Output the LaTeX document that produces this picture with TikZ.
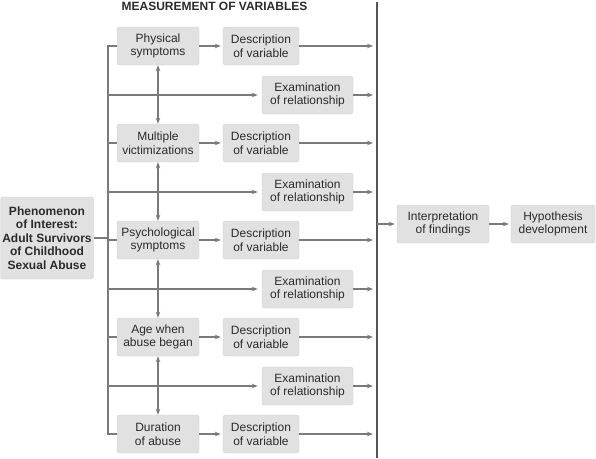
\documentclass[tikz,border=0pt]{standalone}
\usepackage{fontspec}
\setmainfont{Liberation Sans}
\usetikzlibrary{positioning, arrows.meta}
\definecolor{ink}{HTML}{2b2b2b}
\definecolor{wiregray}{HTML}{7a7a7a}
\definecolor{railgray}{HTML}{555555}
\definecolor{boxfill}{HTML}{e1e1e1}
\definecolor{boxedge}{HTML}{cdcdcd}

\tikzset{
  varbox/.style={rectangle, draw=boxedge, fill=boxfill, rounded corners=2.5pt,
                 align=center, inner sep=0pt, text=ink, minimum height=38pt,
                 font=\fontsize{12}{13.5}\selectfont},
  link/.style={draw=wiregray, line width=1.4pt},
  arr/.style={link, -{Stealth[length=6pt, width=4.5pt]}},
  dblarr/.style={link, {Stealth[length=6pt, width=4.5pt]}-{Stealth[length=6pt, width=4.5pt]}}
}

\begin{document}
\begin{tikzpicture}[x=1pt, y=-1pt]
  \useasboundingbox (0,0) rectangle (596,458);

  % title
  \node[anchor=base, text=ink, font=\bfseries\fontsize{12}{14}\selectfont] (title) at (214.5,10.5)
        {MEASUREMENT OF VARIABLES};

  % phenomenon
  \node[varbox, minimum width=93pt, minimum height=82pt, font=\bfseries\fontsize{12}{13.6}\selectfont]
        (phen) at (47,238) {Phenomenon\\of Interest:\\Adult Survivors\\of Childhood\\Sexual Abuse};

  % variables
  \node[varbox, minimum width=82pt] (phys)  at (158,46)  {Physical\\symptoms};
  \node[varbox, minimum width=82pt] (multi) at (158,143) {Multiple\\victimizations};
  \node[varbox, minimum width=82pt] (psych) at (158,240) {Psychological\\symptoms};
  \node[varbox, minimum width=82pt] (age)   at (158,337) {Age when\\abuse began};
  \node[varbox, minimum width=82pt] (dur)   at (158,434) {Duration\\of abuse};

  % descriptions
  \node[varbox, minimum width=76pt] (desc1) at (261,46)  {Description\\of variable};
  \node[varbox, minimum width=76pt] (desc2) at (261,143) {Description\\of variable};
  \node[varbox, minimum width=76pt] (desc3) at (261,240) {Description\\of variable};
  \node[varbox, minimum width=76pt] (desc4) at (261,337) {Description\\of variable};
  \node[varbox, minimum width=76pt] (desc5) at (261,434) {Description\\of variable};

  % examinations
  \node[varbox, minimum width=91pt] (exam1) at (307.5,95)  {Examination\\of relationship};
  \node[varbox, minimum width=91pt] (exam2) at (307.5,192) {Examination\\of relationship};
  \node[varbox, minimum width=91pt] (exam3) at (307.5,289) {Examination\\of relationship};
  \node[varbox, minimum width=91pt] (exam4) at (307.5,386) {Examination\\of relationship};

  % findings
  \node[varbox, minimum width=92pt] (interp) at (443,224) {Interpretation\\of findings};
  \node[varbox, minimum width=84pt] (hypo)   at (553,224) {Hypothesis\\development};

  % bus and rail
  \coordinate (bus) at (108,238);
  \coordinate (railtop) at (377,2);
  \coordinate (railbot) at (377,458);

  \draw[link] (phen.east) -- (bus);
  \draw[link] (phys.west) -| (bus) |- (dur.west);
  \draw[link] (multi.west) -- (multi.west -| bus);
  \draw[link] (psych.west) -- (psych.west -| bus);
  \draw[link] (age.west) -- (age.west -| bus);

  \draw[arr, shorten >=4pt] (exam1.west -| bus) -- (exam1.west);
  \draw[arr, shorten >=4pt] (exam2.west -| bus) -- (exam2.west);
  \draw[arr, shorten >=4pt] (exam3.west -| bus) -- (exam3.west);
  \draw[arr, shorten >=4pt] (exam4.west -| bus) -- (exam4.west);

  \draw[dblarr] (phys) -- (multi);
  \draw[dblarr] (multi) -- (psych);
  \draw[dblarr] (psych) -- (age);
  \draw[dblarr] (age) -- (dur);

  \draw[arr, shorten >=2pt] (phys) -- (desc1);
  \draw[arr, shorten >=2pt] (multi) -- (desc2);
  \draw[arr, shorten >=2pt] (psych) -- (desc3);
  \draw[arr, shorten >=2pt] (age) -- (desc4);
  \draw[arr, shorten >=2pt] (dur) -- (desc5);

  \draw[draw=railgray, line width=1.5pt] (railtop) -- (railbot);
  \draw[arr, shorten >=4pt] (desc1.east) -- (desc1.east -| railtop);
  \draw[arr, shorten >=4pt] (desc2.east) -- (desc2.east -| railtop);
  \draw[arr, shorten >=4pt] (desc3.east) -- (desc3.east -| railtop);
  \draw[arr, shorten >=4pt] (desc4.east) -- (desc4.east -| railtop);
  \draw[arr, shorten >=4pt] (desc5.east) -- (desc5.east -| railtop);
  \draw[arr, shorten >=4pt] (exam1.east) -- (exam1.east -| railtop);
  \draw[arr, shorten >=4pt] (exam2.east) -- (exam2.east -| railtop);
  \draw[arr, shorten >=4pt] (exam3.east) -- (exam3.east -| railtop);
  \draw[arr, shorten >=4pt] (exam4.east) -- (exam4.east -| railtop);

  \draw[arr, shorten >=2pt] (interp.west -| railtop) -- (interp.west);
  \draw[arr, shorten >=2pt] (interp) -- (hypo);
\end{tikzpicture}
\end{document}
